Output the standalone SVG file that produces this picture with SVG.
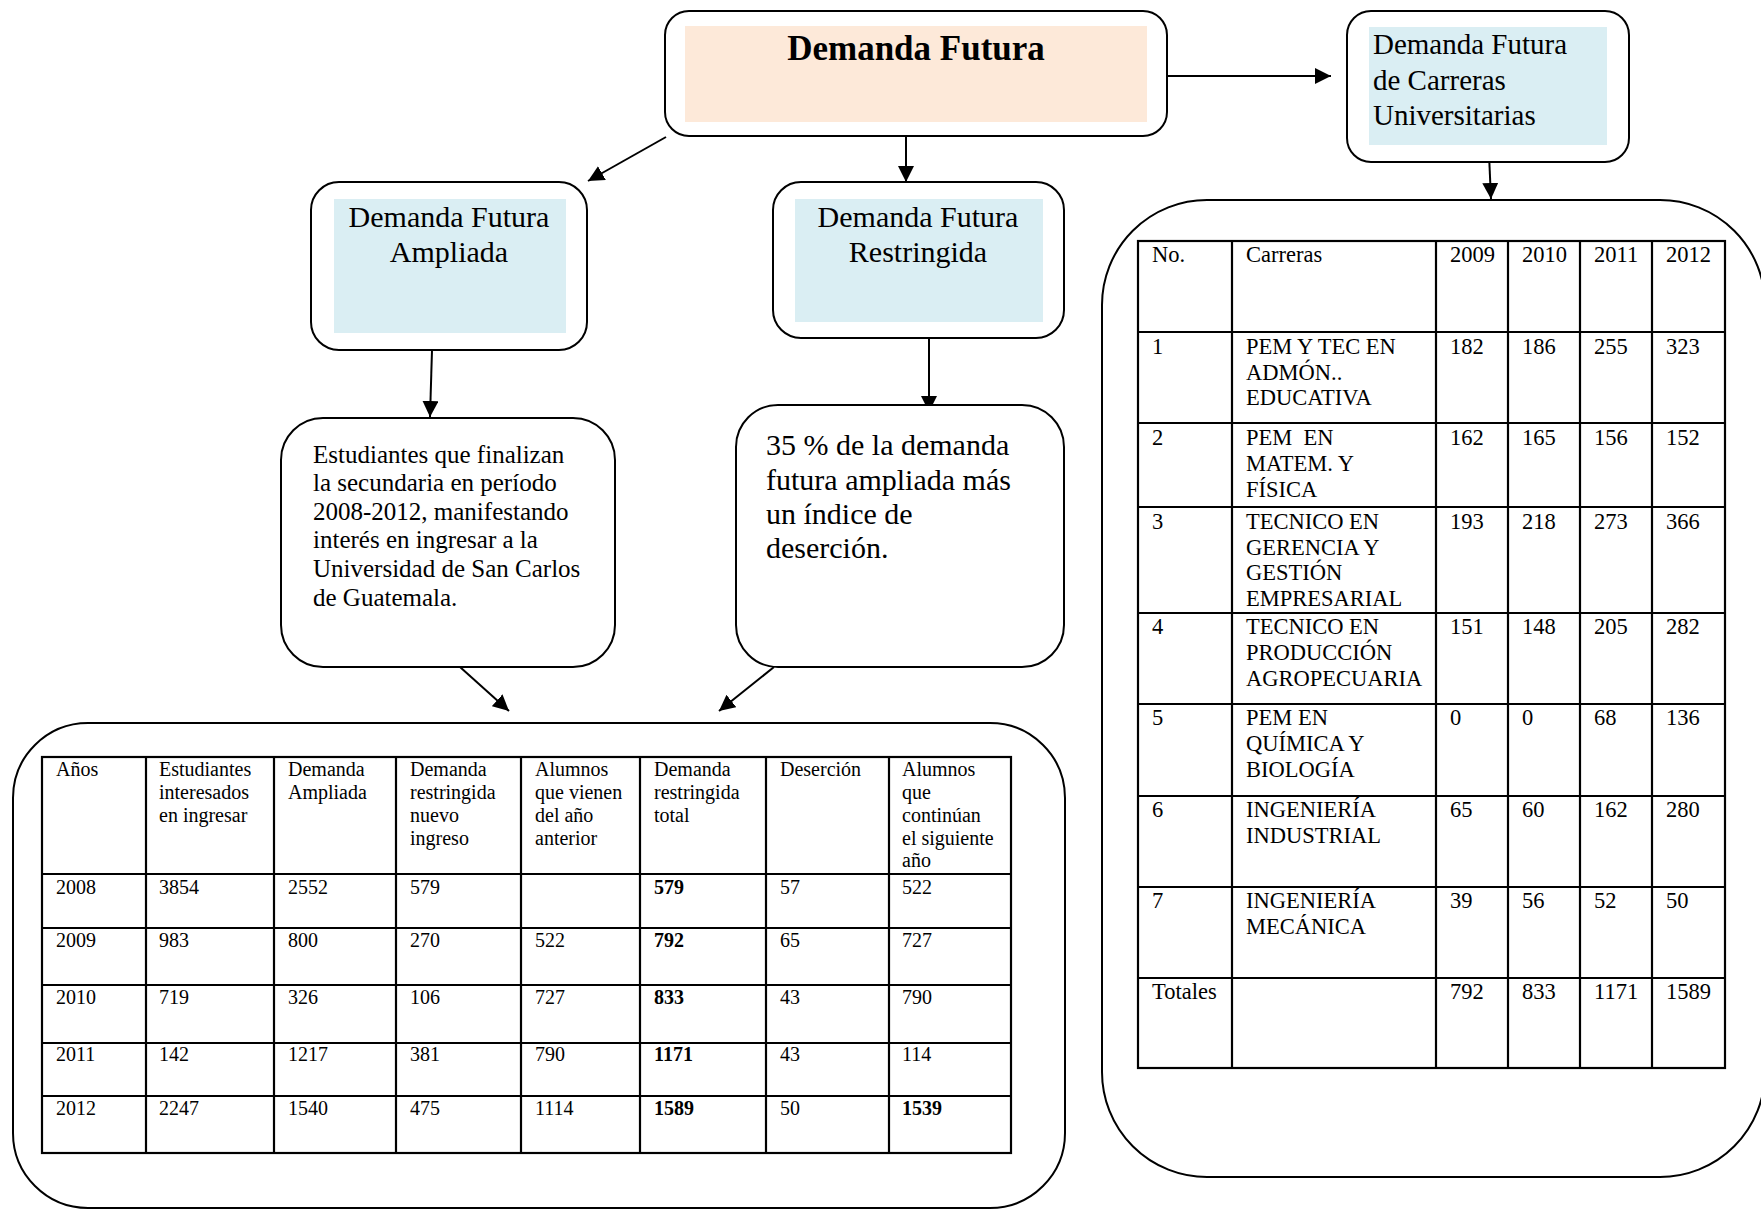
<svg xmlns="http://www.w3.org/2000/svg" width="1761" height="1209" viewBox="0 0 1761 1209">
<style>
.box{fill:#fff;stroke:#000;stroke-width:2}
.peach{fill:#FDE9D9}
.blue{fill:#DAEEF3}
.t{font-family:"Liberation Serif","Times New Roman",serif;fill:#000}
.h1{font-size:35px;font-weight:bold;text-anchor:middle}
.h2{font-size:30px;text-anchor:middle}
.h3{font-size:29px}
.p25{font-size:25px}
.p30{font-size:30px}
.tl{font-size:20px}
.tr{font-size:22.5px}
.b{font-weight:bold}
.grid{stroke:#000;stroke-width:2.2;fill:none}
.conn{stroke:#000;stroke-width:2;fill:none;marker-end:url(#arr)}
</style>
<defs>
<marker id="arr" markerUnits="userSpaceOnUse" markerWidth="16" markerHeight="16" viewBox="0 0 16 16" refX="16" refY="8" orient="auto">
<path d="M0,0 L16,8 L0,16 Z" fill="#000"/>
</marker>
</defs>
<rect width="1761" height="1209" fill="#fff"/>

<g id="connectors">
<line class="conn" x1="666" y1="137" x2="588" y2="181"/>
<line class="conn" x1="906" y1="136" x2="906" y2="182"/>
<line class="conn" x1="1167" y1="76" x2="1331" y2="76"/>
<line class="conn" x1="1488" y1="132" x2="1491" y2="199"/>
<line class="conn" x1="432" y1="350" x2="430" y2="417"/>
<line class="conn" x1="929" y1="338" x2="929" y2="412"/>
<line class="conn" x1="460" y1="667" x2="509" y2="711"/>
<line class="conn" x1="774" y1="667" x2="719" y2="711"/>
</g>

<g id="demanda-futura">
<rect class="box" x="665" y="11" width="502" height="125" rx="24"/>
<rect class="peach" x="685" y="26" width="462" height="96"/>
<text class="t h1" x="916" y="60">Demanda Futura</text>
</g>

<g id="demanda-carreras">
<rect class="box" x="1347" y="11" width="282" height="151" rx="24"/>
<rect class="blue" x="1369" y="27" width="238" height="118"/>
<text class="t h3" x="1373" y="54">Demanda Futura</text>
<text class="t h3" x="1373" y="90">de Carreras</text>
<text class="t h3" x="1373" y="125">Universitarias</text>
</g>

<g id="demanda-ampliada">
<rect class="box" x="311" y="182" width="276" height="168" rx="28"/>
<rect class="blue" x="334" y="199" width="232" height="134"/>
<text class="t h2" x="449" y="227">Demanda Futura</text>
<text class="t h2" x="449" y="262">Ampliada</text>
</g>

<g id="demanda-restringida">
<rect class="box" x="773" y="182" width="291" height="156" rx="28"/>
<rect class="blue" x="795" y="199" width="248" height="123"/>
<text class="t h2" x="918" y="227">Demanda Futura</text>
<text class="t h2" x="918" y="262">Restringida</text>
</g>

<g id="estudiantes">
<rect class="box" x="281" y="418" width="334" height="249" rx="42"/>
<text class="t p25" x="313" y="463">Estudiantes que finalizan</text>
<text class="t p25" x="313" y="491">la secundaria en período</text>
<text class="t p25" x="313" y="520">2008-2012, manifestando</text>
<text class="t p25" x="313" y="548">interés en ingresar a la</text>
<text class="t p25" x="313" y="577">Universidad de San Carlos</text>
<text class="t p25" x="313" y="606">de Guatemala.</text>
</g>

<g id="porcentaje">
<rect class="box" x="736" y="405" width="328" height="262" rx="42"/>
<text class="t p30" x="766" y="455">35 % de la demanda</text>
<text class="t p30" x="766" y="490">futura ampliada más</text>
<text class="t p30" x="766" y="524">un índice de</text>
<text class="t p30" x="766" y="558">deserción.</text>
</g>

<g id="tabla-demanda">
<rect class="box" x="13" y="723" width="1052" height="485" rx="75"/>
<rect class="grid" x="42" y="757" width="969" height="396"/>
<path class="grid" d="M146,757V1153M274,757V1153M396,757V1153M521,757V1153M640,757V1153M766,757V1153M889,757V1153M42,874H1011M42,928H1011M42,985H1011M42,1043H1011M42,1096H1011"/>
<g class="t tl">
<text x="56" y="776">Años</text>
<text x="159" y="776">Estudiantes</text>
<text x="159" y="799">interesados</text>
<text x="159" y="822">en ingresar</text>
<text x="288" y="776">Demanda</text>
<text x="288" y="799">Ampliada</text>
<text x="410" y="776">Demanda</text>
<text x="410" y="799">restringida</text>
<text x="410" y="822">nuevo</text>
<text x="410" y="845">ingreso</text>
<text x="535" y="776">Alumnos</text>
<text x="535" y="799">que vienen</text>
<text x="535" y="822">del año</text>
<text x="535" y="845">anterior</text>
<text x="654" y="776">Demanda</text>
<text x="654" y="799">restringida</text>
<text x="654" y="822">total</text>
<text x="780" y="776">Deserción</text>
<text x="902" y="776">Alumnos</text>
<text x="902" y="799">que</text>
<text x="902" y="822">continúan</text>
<text x="902" y="845">el siguiente</text>
<text x="902" y="867">año</text>

<text x="56" y="894">2008</text><text x="159" y="894">3854</text><text x="288" y="894">2552</text><text x="410" y="894">579</text><text class="b" x="654" y="894">579</text><text x="780" y="894">57</text><text x="902" y="894">522</text>
<text x="56" y="947">2009</text><text x="159" y="947">983</text><text x="288" y="947">800</text><text x="410" y="947">270</text><text x="535" y="947">522</text><text class="b" x="654" y="947">792</text><text x="780" y="947">65</text><text x="902" y="947">727</text>
<text x="56" y="1004">2010</text><text x="159" y="1004">719</text><text x="288" y="1004">326</text><text x="410" y="1004">106</text><text x="535" y="1004">727</text><text class="b" x="654" y="1004">833</text><text x="780" y="1004">43</text><text x="902" y="1004">790</text>
<text x="56" y="1061">2011</text><text x="159" y="1061">142</text><text x="288" y="1061">1217</text><text x="410" y="1061">381</text><text x="535" y="1061">790</text><text class="b" x="654" y="1061">1171</text><text x="780" y="1061">43</text><text x="902" y="1061">114</text>
<text x="56" y="1115">2012</text><text x="159" y="1115">2247</text><text x="288" y="1115">1540</text><text x="410" y="1115">475</text><text x="535" y="1115">1114</text><text class="b" x="654" y="1115">1589</text><text x="780" y="1115">50</text><text class="b" x="902" y="1115">1539</text>
</g>
</g>

<g id="tabla-carreras">
<rect class="box" x="1102" y="200" width="663" height="977" rx="105"/>
<rect class="grid" x="1138" y="241" width="587" height="827"/>
<path class="grid" d="M1232,241V1068M1436,241V1068M1508,241V1068M1580,241V1068M1652,241V1068M1138,332H1725M1138,423H1725M1138,507H1725M1138,613H1725M1138,704H1725M1138,796H1725M1138,887H1725M1138,978H1725"/>
<g class="t tr">
<text x="1152" y="262">No.</text><text x="1246" y="262">Carreras</text><text x="1450" y="262">2009</text><text x="1522" y="262">2010</text><text x="1594" y="262">2011</text><text x="1666" y="262">2012</text>

<text x="1152" y="354">1</text><text x="1246" y="354">PEM Y TEC EN</text><text x="1246" y="380">ADMÓN..</text><text x="1246" y="405">EDUCATIVA</text>
<text x="1450" y="354">182</text><text x="1522" y="354">186</text><text x="1594" y="354">255</text><text x="1666" y="354">323</text>

<text x="1152" y="445">2</text><text x="1246" y="445" xml:space="preserve">PEM  EN</text><text x="1246" y="471">MATEM. Y</text><text x="1246" y="497">FÍSICA</text>
<text x="1450" y="445">162</text><text x="1522" y="445">165</text><text x="1594" y="445">156</text><text x="1666" y="445">152</text>

<text x="1152" y="529">3</text><text x="1246" y="529">TECNICO EN</text><text x="1246" y="555">GERENCIA Y</text><text x="1246" y="580">GESTIÓN</text><text x="1246" y="606">EMPRESARIAL</text>
<text x="1450" y="529">193</text><text x="1522" y="529">218</text><text x="1594" y="529">273</text><text x="1666" y="529">366</text>

<text x="1152" y="634">4</text><text x="1246" y="634">TECNICO EN</text><text x="1246" y="660">PRODUCCIÓN</text><text x="1246" y="686">AGROPECUARIA</text>
<text x="1450" y="634">151</text><text x="1522" y="634">148</text><text x="1594" y="634">205</text><text x="1666" y="634">282</text>

<text x="1152" y="725">5</text><text x="1246" y="725">PEM EN</text><text x="1246" y="751">QUÍMICA Y</text><text x="1246" y="777">BIOLOGÍA</text>
<text x="1450" y="725">0</text><text x="1522" y="725">0</text><text x="1594" y="725">68</text><text x="1666" y="725">136</text>

<text x="1152" y="817">6</text><text x="1246" y="817">INGENIERÍA</text><text x="1246" y="843">INDUSTRIAL</text>
<text x="1450" y="817">65</text><text x="1522" y="817">60</text><text x="1594" y="817">162</text><text x="1666" y="817">280</text>

<text x="1152" y="908">7</text><text x="1246" y="908">INGENIERÍA</text><text x="1246" y="934">MECÁNICA</text>
<text x="1450" y="908">39</text><text x="1522" y="908">56</text><text x="1594" y="908">52</text><text x="1666" y="908">50</text>

<text x="1152" y="999">Totales</text>
<text x="1450" y="999">792</text><text x="1522" y="999">833</text><text x="1594" y="999">1171</text><text x="1666" y="999">1589</text>
</g>
</g>
</svg>
